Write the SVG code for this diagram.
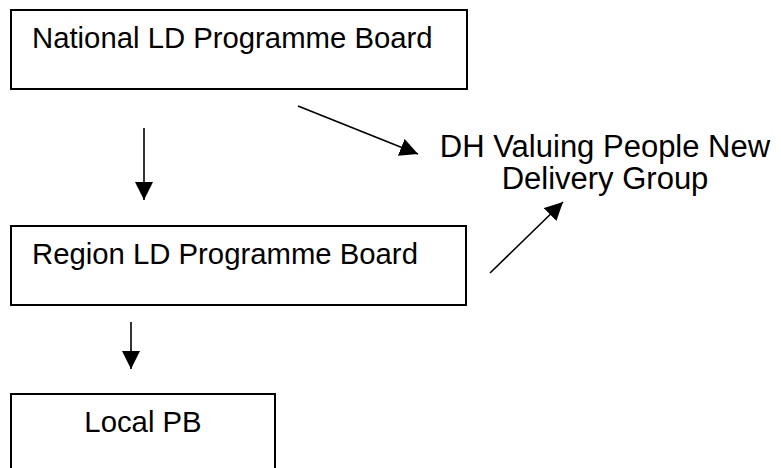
<svg xmlns="http://www.w3.org/2000/svg" width="781" height="468" viewBox="0 0 781 468">
<style>
.box{fill:#fff;stroke:#000;stroke-width:2}
.t{font-family:"Liberation Sans",Arial,sans-serif;font-size:29.3px;fill:#000}
.dh{font-family:"Liberation Sans",Arial,sans-serif;font-size:31px;fill:#000}
.c{stroke:#000;stroke-width:1.6;fill:none;marker-end:url(#ah)}
</style>
<defs>
<marker id="ah" markerUnits="userSpaceOnUse" markerWidth="18" markerHeight="18" viewBox="0 0 16 16" refX="16" refY="8" orient="auto">
<path d="M0,0 L16,8 L0,16 Z" fill="#000"/>
</marker>
</defs>
<rect width="781" height="468" fill="#fff"/>
<g id="national">
<rect class="box" x="11" y="10" width="456" height="79"/>
<text class="t" x="32" y="48">National LD Programme Board</text>
</g>
<g id="region">
<rect class="box" x="11" y="226" width="455" height="79"/>
<text class="t" x="32" y="264">Region LD Programme Board</text>
</g>
<g id="local">
<rect class="box" x="11" y="394" width="264" height="90"/>
<text class="t" x="143" y="432" text-anchor="middle">Local PB</text>
</g>
<g id="dh">
<text class="dh" x="605" y="157" text-anchor="middle">DH Valuing People New</text>
<text class="dh" x="605" y="189" text-anchor="middle">Delivery Group</text>
</g>
<g id="connectors">
<line class="c" x1="144" y1="128" x2="144" y2="200"/>
<line class="c" x1="131" y1="322" x2="131" y2="369"/>
<line class="c" x1="298" y1="106" x2="418" y2="154"/>
<line class="c" x1="490" y1="273" x2="563" y2="202"/>
</g>
</svg>
